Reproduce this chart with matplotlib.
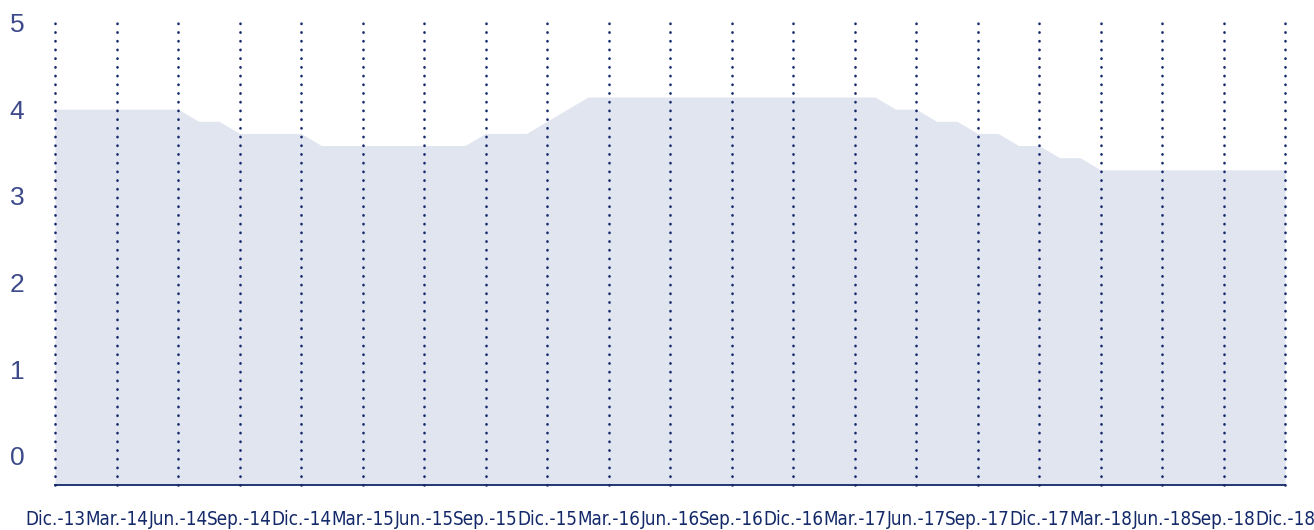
import matplotlib
matplotlib.use('Agg')
import matplotlib.pyplot as plt
from matplotlib import font_manager
from matplotlib.font_manager import FontProperties

# monthly values, Dic.-13 .. Dic.-18 (61 months)
values = [
    4.00, 4.00, 4.00, 4.00, 4.00, 4.00, 4.00,  # Dic-13 .. Jun-14
    3.86, 3.86,                                # Jul-14, Ago-14
    3.72, 3.72, 3.72, 3.72,                    # Sep-14 .. Dic-14
    3.58, 3.58, 3.58, 3.58, 3.58, 3.58, 3.58, 3.58,  # Ene-15 .. Ago-15
    3.72, 3.72, 3.72,                          # Sep-15 .. Nov-15
    3.86, 4.00,                                # Dic-15, Ene-16
    4.14, 4.14, 4.14, 4.14, 4.14, 4.14, 4.14, 4.14,
    4.14, 4.14, 4.14, 4.14, 4.14, 4.14, 4.14,  # Feb-16 .. Abr-17
    4.00, 4.00,
    3.86, 3.86,
    3.72, 3.72,
    3.58, 3.58,
    3.44, 3.44,
    3.30, 3.30, 3.30, 3.30, 3.30, 3.30, 3.30, 3.30, 3.30, 3.30,  # Mar-18 .. Dic-18
]
months = list(range(len(values)))

quarter_labels = [
    'Dic.-13', 'Mar.-14', 'Jun.-14', 'Sep.-14',
    'Dic.-14', 'Mar.-15', 'Jun.-15', 'Sep.-15',
    'Dic.-15', 'Mar.-16', 'Jun.-16', 'Sep.-16',
    'Dic.-16', 'Mar.-17', 'Jun.-17', 'Sep.-17',
    'Dic.-17', 'Mar.-18', 'Jun.-18', 'Sep.-18',
    'Dic.-18',
]
quarter_ticks = months[::3]
y_ticks = [0, 1, 2, 3, 4, 5]

fill_color = '#e1e5f0'
navy = '#14296a'
label_blue = '#3d4a8a'

# look for a condensed sans for the crowded date labels
narrow_file = None
for f in font_manager.fontManager.ttflist:
    if ('Narrow' in f.name or 'Condensed' in f.name or
            f.stretch in ('condensed', 'semi-condensed', 'extra-condensed')):
        if 'Mono' not in f.name and 'Serif' not in f.name and f.style == 'normal' \
                and f.weight in (400, 'normal', 'regular'):
            narrow_file = f.fname
            break
if narrow_file:
    xlab_font = FontProperties(fname=narrow_file, size=13.5)
else:
    xlab_font = FontProperties(family='Roboto', size=12)

fig = plt.figure(figsize=(13.14, 5.30), dpi=100, facecolor='white')
ax = fig.add_axes([55 / 1314, 1 - 485.3 / 530, (1285 - 55) / 1314, (485.3 - 20.3) / 530])

y_min, y_max = -0.34, 5.025
ax.fill_between(months, values, y_min, color=fill_color, linewidth=0)

ax.set_xlim(0, len(values) - 1)
ax.set_ylim(y_min, y_max)

ax.set_xticks(quarter_ticks)
ax.set_xticklabels(quarter_labels, color=navy, fontproperties=xlab_font)
ax.set_yticks(y_ticks)
ax.set_yticklabels([str(v) for v in y_ticks], fontsize=19, color=label_blue,
                   family=['Liberation Sans', 'DejaVu Sans'])
ax.tick_params(axis='x', length=0, pad=18)
ax.tick_params(axis='y', length=0, pad=22)

# dotted vertical gridlines
ax.grid(axis='x', color=navy, linewidth=1.9, linestyle=(0, (0.1, 3.2)))
for line in ax.get_xgridlines():
    line.set_dash_capstyle('round')
    line.set_clip_on(False)

for side in ['top', 'right', 'left']:
    ax.spines[side].set_visible(False)
ax.spines['bottom'].set_color(navy)
ax.spines['bottom'].set_linewidth(1.3)
ax.spines['bottom'].set_zorder(3)

plt.savefig('out.png', dpi=100, facecolor='white')
plt.close(fig)
